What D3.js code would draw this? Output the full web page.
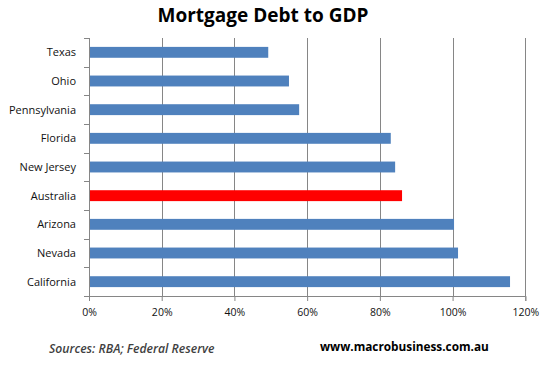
<!DOCTYPE html>
<html>
<head>
<meta charset="utf-8">
<script src="https://cdn.jsdelivr.net/npm/d3@7"></script>
<style>
  body { margin: 0; background: #fff; }
  svg { display: block; }
</style>
</head>
<body>
<svg width="547" height="368"></svg>
<script>
var svg = d3.select("svg"),
    width = +svg.attr("width"),
    height = +svg.attr("height");

// data, top to bottom
var states = ["Texas", "Ohio", "Pennsylvania", "Florida", "New Jersey",
              "Australia", "Arizona", "Nevada", "California"];
var debtToGdp = [49.3, 55.0, 57.8, 83.0, 84.2, 86.1, 100.4, 101.5, 115.8];
var highlight = "Australia";
var xTicks = [0, 20, 40, 60, 80, 100, 120];

var margin = {top: 38, right: 22, bottom: 72, left: 89};
var plotW = 525.3 - margin.left,
    plotH = 296 - margin.top;

var x = d3.scaleLinear()
    .domain([0, 120])
    .range([0, plotW]);

var y = d3.scaleBand()
    .domain(states)
    .range([0, plotH])
    .paddingInner(0.62)
    .paddingOuter(0.31);

var font = "'Open Sans', 'Liberation Sans', sans-serif";

var g = svg.append("g")
    .attr("transform", "translate(" + margin.left + "," + margin.top + ")");

// vertical gridlines
g.append("g")
    .selectAll("line")
    .data(xTicks.slice(1))
    .enter().append("line")
      .attr("x1", function(d) { return Math.round(x(d)) + 0.5; })
      .attr("x2", function(d) { return Math.round(x(d)) + 0.5; })
      .attr("y1", 0)
      .attr("y2", plotH)
      .attr("stroke", "#868686")
      .attr("stroke-width", 1);

// bars
g.append("g")
    .selectAll("rect")
    .data(states)
    .enter().append("rect")
      .attr("x", 0)
      .attr("y", function(d) { return y(d); })
      .attr("height", y.bandwidth())
      .attr("width", function(d, i) { return x(debtToGdp[i]); })
      .attr("fill", function(d) { return d === highlight ? "#ff0000" : "#4f81bd"; });

// y axis (category ticks between bands)
var yAxis = g.append("g");
yAxis.append("line")
    .attr("x1", 0.5).attr("x2", 0.5)
    .attr("y1", 0).attr("y2", plotH)
    .attr("stroke", "#868686");
yAxis.selectAll(".tk")
    .data(d3.range(states.length + 1))
    .enter().append("line")
      .attr("class", "tk")
      .attr("x1", -5).attr("x2", 0.5)
      .attr("y1", function(i) { return Math.round(i * plotH / states.length) + 0.5; })
      .attr("y2", function(i) { return Math.round(i * plotH / states.length) + 0.5; })
      .attr("stroke", "#868686");
yAxis.selectAll("text")
    .data(states)
    .enter().append("text")
      .attr("x", -13)
      .attr("y", function(d) { return y(d) + y.bandwidth() / 2; })
      .attr("dy", "0.35em")
      .attr("text-anchor", "end")
      .attr("font-family", font)
      .attr("font-size", "11px")
      .attr("fill", "#111")
      .text(function(d) { return d; });

// x axis
var xAxis = g.append("g")
    .attr("transform", "translate(0," + plotH + ")")
    .call(d3.axisBottom(x)
      .tickValues(xTicks)
      .tickSize(5)
      .tickPadding(8)
      .tickFormat(function(d) { return d + "%"; }));
xAxis.select(".domain").attr("stroke", "#868686");
xAxis.selectAll(".tick line").attr("stroke", "#868686");
xAxis.selectAll("text")
    .attr("font-family", font)
    .attr("font-size", "10.5px")
    .attr("fill", "#111");

// title
svg.append("text")
    .attr("x", 263)
    .attr("y", 22)
    .attr("text-anchor", "middle")
    .attr("font-family", font)
    .attr("font-weight", "bold")
    .attr("font-size", "19px")
    .attr("fill", "#000")
    .text("Mortgage Debt to GDP");

// footer
svg.append("text")
    .attr("x", 49)
    .attr("y", 353)
    .attr("font-family", font)
    .attr("font-style", "italic")
    .attr("font-weight", "600")
    .attr("font-size", "12.2px")
    .attr("fill", "#3f3f3f")
    .text("Sources: RBA; Federal Reserve");

svg.append("text")
    .attr("x", 320)
    .attr("y", 351)
    .attr("font-family", font)
    .attr("font-weight", "bold")
    .attr("font-size", "11.8px")
    .attr("fill", "#000")
    .text("www.macrobusiness.com.au");
</script>
</body>
</html>
